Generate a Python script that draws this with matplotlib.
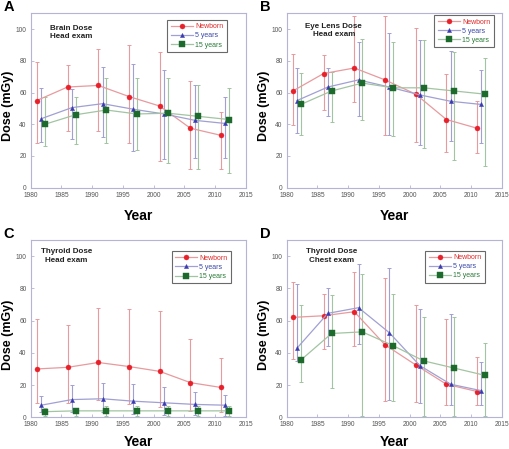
import numpy as np
import matplotlib
matplotlib.use('Agg')
import matplotlib.pyplot as plt

plt.rcParams['font.family'] = ['Liberation Sans', 'DejaVu Sans']

# x positions (years) for each age group
years_nb = [1981, 1986, 1991, 1996, 2001, 2006, 2011]
years_5 = [1981.7, 1986.7, 1991.7, 1996.7, 2001.7, 2006.7, 2011.7]
years_15 = [1982.3, 1987.3, 1992.3, 1997.3, 2002.3, 2007.3, 2012.3]

series_names = ['Newborn', '5 years', '15 years']

# Panel A: brain dose, head exam  (value, lower, upper)
a_nb = [55, 63.5, 64.5, 57.5, 51.5, 37.5, 33]
a_nb_lo = [28, 36, 35.5, 28, 17, 12, 12]
a_nb_hi = [79, 77.5, 87.5, 90, 85.5, 67, 48]
a_5 = [43.5, 50.5, 53, 49.5, 46.5, 42.5, 40.5]
a_5_lo = [29, 30.5, 32, 23, 18, 18.5, 18.5]
a_5_hi = [63, 62.5, 76, 78, 74.5, 65, 57.5]
a_15 = [40, 46, 49, 46.5, 47, 45, 43]
a_15_lo = [26, 27.5, 28.5, 23.5, 15.5, 11.5, 9]
a_15_hi = [57.5, 57.5, 69.5, 69.5, 69, 64.5, 63]

# Panel B: eye lens dose, head exam
b_nb = [61, 72, 75.5, 68, 59, 43, 37.5]
b_nb_lo = [39.5, 49, 54, 33, 29, 22.5, 22]
b_nb_hi = [84.5, 84, 108, 108, 101, 72, 54.5]
b_5 = [55, 63.5, 68, 63.5, 58.5, 54.5, 52.5]
b_5_lo = [34.5, 45, 45.5, 33, 27, 29.5, 28]
b_5_hi = [75.5, 75.5, 92, 97.5, 93, 86, 74]
b_15 = [52.5, 61, 66, 63, 63, 61, 59]
b_15_lo = [33, 41.5, 43, 32.5, 25, 17.5, 13.5]
b_15_hi = [72.5, 73, 93.5, 92, 93, 85.5, 82]

# Panel C: thyroid dose, head exam
c_nb = [30, 31, 34, 31.5, 28.5, 21.5, 18.5]
c_nb_lo = [9, 9, 11, 8, 6.5, 4, 3]
c_nb_hi = [61, 57, 68, 67, 66, 48.5, 36.5]
c_5 = [7.5, 11, 11.5, 10, 9, 8, 7.5]
c_5_lo = [3, 3, 3, 2, 1.5, 1.5, 1]
c_5_hi = [13, 20, 21, 20.5, 19, 16, 14]
c_15 = [3.5, 4, 4, 4, 4, 4, 4]
c_15_lo = [1, 1, 1, 1, 1, 1, 0.5]
c_15_hi = [6, 6, 7, 7, 7, 7, 7]

# Panel D: thyroid dose, chest exam
d_nb = [62, 63, 65.5, 45, 32.5, 20.5, 16]
d_nb_lo = [36, 42.5, 44.5, 10, 9.5, 7.5, 7.5]
d_nb_hi = [84, 76.5, 90, 86.5, 69.5, 61, 37.5]
d_5 = [43, 64.5, 68, 52.5, 32, 20.5, 16.5]
d_5_lo = [35, 44.5, 45.5, 11, 9, 7.5, 7.5]
d_5_hi = [82.5, 80.5, 95, 92.5, 67.5, 64, 34.5]
d_15 = [35.5, 52, 53, 44.5, 35, 30.5, 26]
d_15_lo = [22, 18, 1, 10, 1, 1, 1]
d_15_hi = [69.5, 76, 89, 76.5, 62, 62, 46]

panels = [
    ('A', 'Brain Dose\nHead exam', [(a_nb, a_nb_lo, a_nb_hi), (a_5, a_5_lo, a_5_hi), (a_15, a_15_lo, a_15_hi)]),
    ('B', 'Eye Lens Dose\nHead exam', [(b_nb, b_nb_lo, b_nb_hi), (b_5, b_5_lo, b_5_hi), (b_15, b_15_lo, b_15_hi)]),
    ('C', 'Thyroid Dose\nHead exam', [(c_nb, c_nb_lo, c_nb_hi), (c_5, c_5_lo, c_5_hi), (c_15, c_15_lo, c_15_hi)]),
    ('D', 'Thyroid Dose\nChest exam', [(d_nb, d_nb_lo, d_nb_hi), (d_5, d_5_lo, d_5_hi), (d_15, d_15_lo, d_15_hi)]),
]

# styling
xs = [years_nb, years_5, years_15]
markers = ['o', '^', 's']
msizes = [3.6, 3.0, 3.8]
mcolors = ['#e8202a', '#3a3ab0', '#1d6b2c']
lcolors = ['#e89a9e', '#a0a0d4', '#a2c4a2']
tcolors = ['#e02828', '#3a48a8', '#2a7a38']
spine_c = '#b4b4d6'

# axes rectangles in pixels: left, top, right, bottom
W, H = 510, 449
rects = [(30.7, 13.3, 245.7, 187.7), (286.7, 13.3, 501.7, 187.7),
         (30.7, 240.0, 245.7, 417.3), (286.7, 240.0, 501.7, 417.3)]
legend_anchor = [(0.912, 0.962), (0.964, 0.99), (0.932, 0.936), (0.922, 0.94)]
note_pos = [(0.09, 0.89, 'left'), (0.219, 0.90, 'center'), (0.167, 0.91, 'center'), (0.209, 0.91, 'center')]
xlabel_y = [-0.162, -0.162, -0.142, -0.142]

fig = plt.figure(figsize=(W / 100, H / 100), dpi=100)

for i, (letter, note, data) in enumerate(panels):
    l, t, r, b = rects[i]
    ax = fig.add_axes([l / W, 1 - b / H, (r - l) / W, (b - t) / H])
    for j, (vals, lo, hi) in enumerate(data):
        vals = np.array(vals)
        err = [vals - np.array(lo), np.array(hi) - vals]
        ax.errorbar(xs[j], vals, yerr=err, fmt='none', ecolor=lcolors[j],
                    elinewidth=0.8, capsize=1.5, capthick=0.7, zorder=1)
        ax.plot(xs[j], vals, color=lcolors[j], lw=0.9, marker=markers[j],
                ms=msizes[j], mfc=mcolors[j], mec=mcolors[j], mew=0.3,
                label=series_names[j], zorder=3)
    ax.set_xlim(1980, 2015)
    ax.set_ylim(0, 110)
    ax.set_xticks(np.arange(1980, 2016, 5))
    ax.set_yticks(np.arange(0, 101, 20))
    ax.tick_params(direction='in', length=2.5, width=0.6, color=spine_c,
                   labelsize=4.8, labelcolor='#555555', pad=3)
    for s in ax.spines.values():
        s.set_color(spine_c)
        s.set_linewidth(0.8)
    ax.set_xlabel('Year', fontsize=10, fontweight='bold')
    ax.set_ylabel('Dose (mGy)', fontsize=9, fontweight='bold')
    ax.xaxis.set_label_coords(0.5, xlabel_y[i])
    ax.yaxis.set_label_coords(-0.106, 0.468)
    ax.xaxis.label.set_va('center')
    ax.yaxis.label.set_va('center')

    nx, ny, ha = note_pos[i]
    ax.text(nx, ny, note, transform=ax.transAxes, ha=ha, va='center',
            fontsize=5.8, fontweight='bold', color='#222222', linespacing=1.3)

    leg = ax.legend(loc='upper right', bbox_to_anchor=legend_anchor[i],
                    fontsize=5.0, frameon=True, fancybox=False, handlelength=3.2,
                    borderpad=0.5, labelspacing=0.3, handletextpad=0.3,
                    borderaxespad=0)
    leg.get_frame().set_edgecolor('#444444')
    leg.get_frame().set_linewidth(0.8)
    for txt, c in zip(leg.get_texts(), tcolors):
        txt.set_color(c)

    fig.text((l - 27) / W, 1 - (t - 6) / H, letter, fontsize=10.5,
             fontweight='bold', ha='left', va='center')

fig.savefig('out.png', dpi=100)
